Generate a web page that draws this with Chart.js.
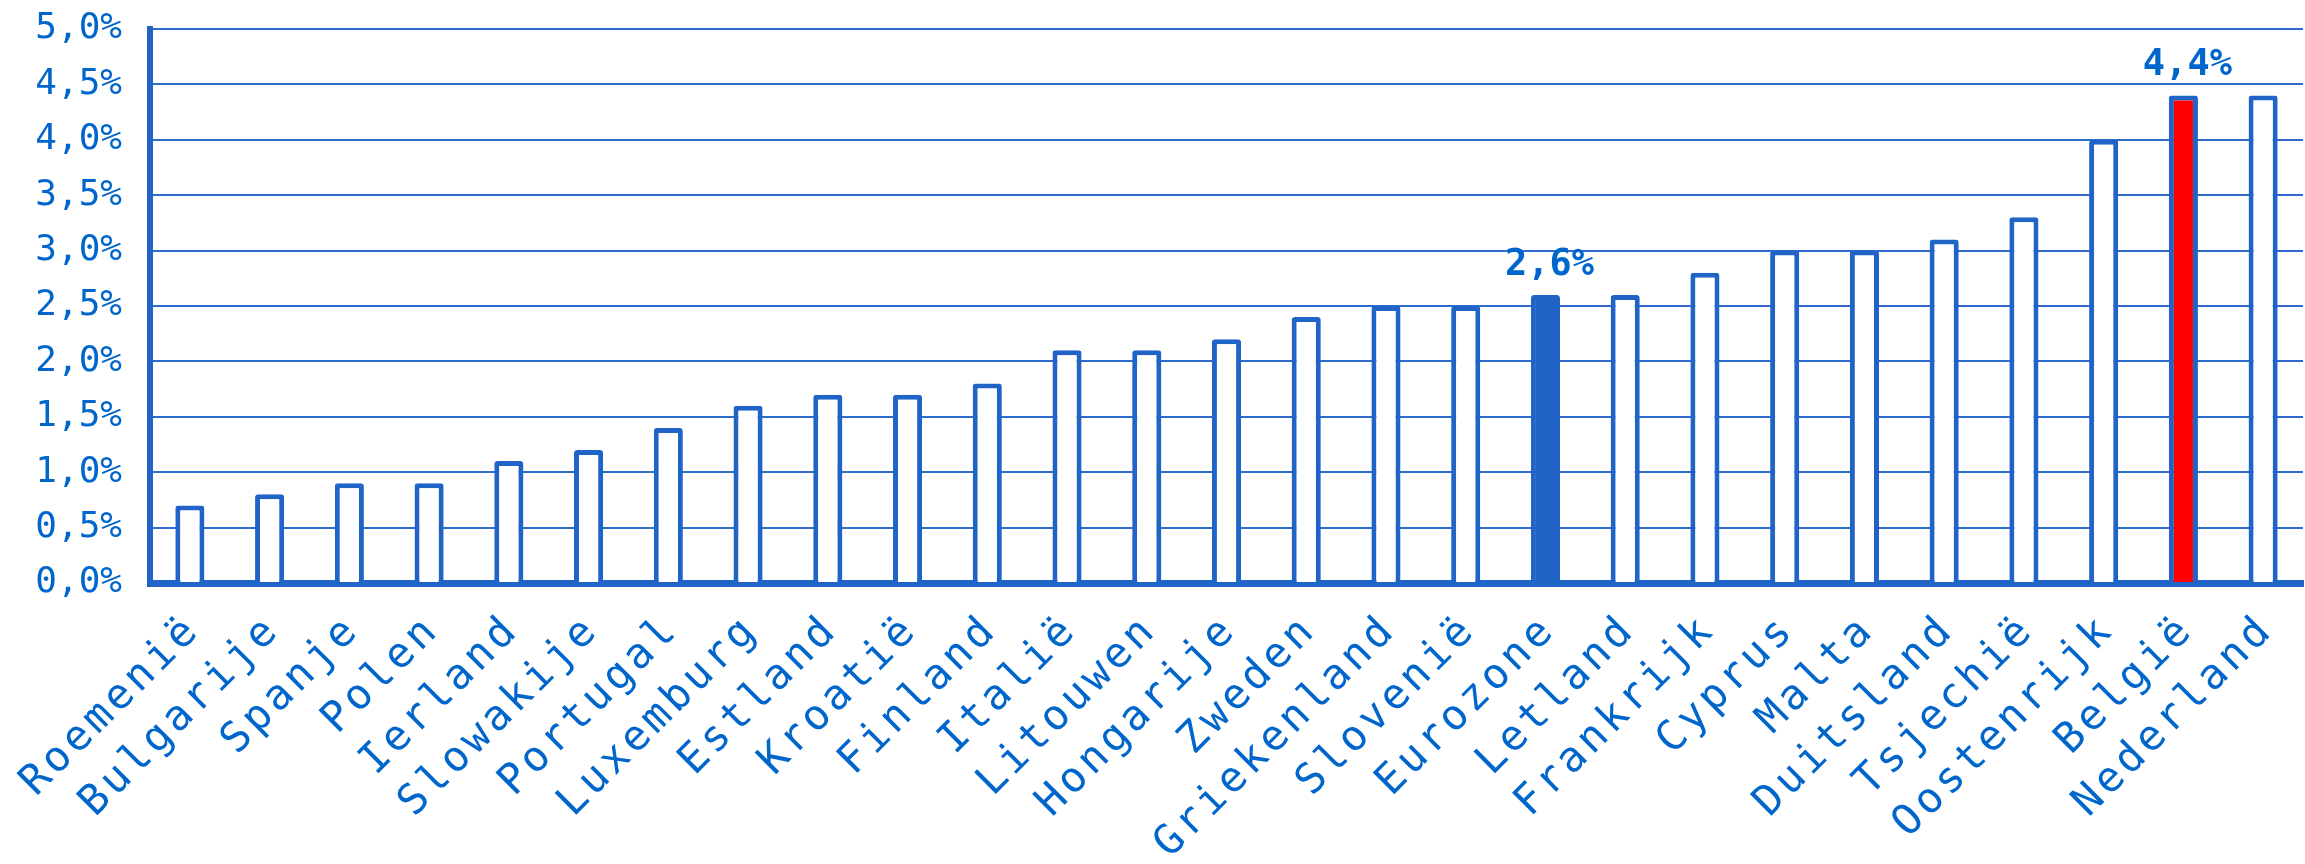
<!DOCTYPE html>
<html>
<head>
<meta charset="utf-8">
<script src="https://cdn.jsdelivr.net/npm/chart.js@4"></script>
<style>
  html, body { margin: 0; padding: 0; background: #fff; }
  #wrap { width: 2305px; height: 864px; }
</style>
</head>
<body>
<div id="wrap"><canvas id="chart" width="2305" height="864"></canvas></div>
<script>
/* ---- Data ---- */
const countries = [
  "Roemenië", "Bulgarije", "Spanje", "Polen", "Ierland", "Slowakije", "Portugal",
  "Luxemburg", "Estland", "Kroatië", "Finland", "Italië", "Litouwen", "Hongarije",
  "Zweden", "Griekenland", "Slovenië", "Eurozone", "Letland", "Frankrijk", "Cyprus",
  "Malta", "Duitsland", "Tsjechië", "Oostenrijk", "België", "Nederland"
];
const values = [
  0.7, 0.8, 0.9, 0.9, 1.1, 1.2, 1.4,
  1.6, 1.7, 1.7, 1.8, 2.1, 2.1, 2.2,
  2.4, 2.5, 2.5, 2.6, 2.6, 2.8, 3.0,
  3.0, 3.1, 3.3, 4.0, 4.4, 4.4
];
const yTicks = [0, 0.5, 1, 1.5, 2, 2.5, 3, 3.5, 4, 4.5, 5];
const averageLabel = "Eurozone";
const homeLabel = "België";
const labelledBars = [averageLabel, homeLabel];

/* ---- Look ---- */
const BLUE = "#2064c8";
const TEXT = "#0066cc";
const GRID = "#2e6bcc";
const RED = "#ff0000";
const FONT = "'DejaVu Sans Mono', monospace";

const fmt = v => v.toFixed(1).replace(".", ",") + "%";

const fills = countries.map(c => c === averageLabel ? BLUE : (c === homeLabel ? RED : "#ffffff"));

// value labels above the two highlighted bars
const valueLabels = {
  id: "valueLabels",
  afterDatasetsDraw(chart) {
    const ctx = chart.ctx;
    const meta = chart.getDatasetMeta(0);
    ctx.save();
    ctx.font = "bold 37px " + FONT;
    ctx.fillStyle = TEXT;
    ctx.textAlign = "center";
    ctx.textBaseline = "alphabetic";
    labelledBars.forEach(name => {
      const i = countries.indexOf(name);
      const bar = meta.data[i];
      ctx.fillText(fmt(values[i]), bar.x + 4, bar.y - 20);
    });
    ctx.restore();
  }
};

// category labels at 45 degrees, widely spaced letters (canvas letterSpacing
// misbehaves when rotated, so each glyph is placed along the slant)
const LABEL_STEP = 29.3;
const LABEL_Y = 643;
const slantedLabels = {
  id: "slantedLabels",
  afterDraw(chart) {
    const ctx = chart.ctx;
    const xs = chart.scales.x;
    const d = LABEL_STEP / Math.SQRT2;
    ctx.save();
    ctx.font = "42px " + FONT;
    ctx.fillStyle = TEXT;
    ctx.textAlign = "center";
    ctx.textBaseline = "alphabetic";
    countries.forEach((name, i) => {
      const x0 = xs.getPixelForTick(i);
      const chars = Array.from(name);
      const n = chars.length;
      chars.forEach((ch, k) => {
        const back = n - 1 - k;
        ctx.save();
        ctx.translate(x0 - back * d, LABEL_Y + back * d);
        ctx.rotate(-Math.PI / 4);
        ctx.fillText(ch, 0, 0);
        ctx.restore();
      });
    });
    ctx.restore();
  }
};

new Chart(document.getElementById("chart"), {
  type: "bar",
  data: {
    labels: countries,
    datasets: [{
      data: values,
      backgroundColor: fills,
      borderColor: BLUE,
      borderWidth: 5,
      borderRadius: 3,
      borderSkipped: "start",
      categoryPercentage: 1,
      barPercentage: 0.365
    }]
  },
  options: {
    responsive: false,
    animation: false,
    devicePixelRatio: 1,
    layout: { padding: { top: 29, right: 2, left: 0, bottom: 0 } },
    plugins: { legend: { display: false }, tooltip: { enabled: false } },
    scales: {
      x: {
        grid: { display: false, drawTicks: false },
        border: { display: true, color: BLUE, width: 7 },
        ticks: { display: false },
        afterFit(scale) {
          scale.height = 281;
          scale.paddingLeft = 0;
          scale.paddingRight = 0;
        }
      },
      y: {
        min: 0,
        max: 5,
        afterBuildTicks(scale) { scale.ticks = yTicks.map(v => ({ value: v })); },
        grid: { color: GRID, lineWidth: 2, drawTicks: false },
        border: { display: true, color: BLUE, width: 6 },
        ticks: {
          color: TEXT,
          font: { family: FONT, size: 36 },
          padding: 28,
          callback: v => fmt(v)
        },
        afterFit(scale) {
          scale.width = 150;
          scale.paddingTop = 0;
          scale.paddingBottom = 0;
        }
      }
    }
  },
  plugins: [valueLabels, slantedLabels]
});
</script>
</body>
</html>
